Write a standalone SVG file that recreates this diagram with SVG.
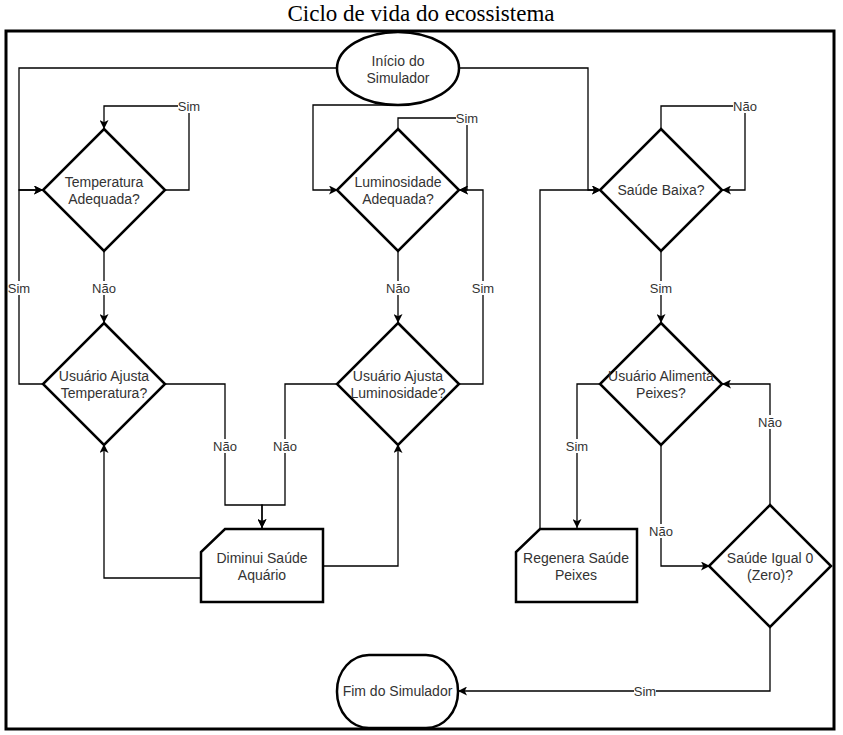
<svg xmlns="http://www.w3.org/2000/svg" width="843" height="735" viewBox="0 0 843 735">
<style>
.node{fill:#fff;stroke:#000;stroke-width:2.5;stroke-linejoin:miter}
.t{font-family:"Liberation Sans",Arial,sans-serif;font-size:14px;fill:#333;text-anchor:middle}
.lbl{font-family:"Liberation Sans",Arial,sans-serif;font-size:13px;fill:#333;text-anchor:middle}
.e{fill:none;stroke:#000;stroke-width:1.3}
.bg{fill:#fff}
</style>
<defs>
<marker id="arr" viewBox="0 0 10 10" refX="10" refY="5" markerWidth="9" markerHeight="9" markerUnits="userSpaceOnUse" orient="auto">
<path d="M0,0 L10,5 L0,10 L2.5,5 z" fill="#000"/>
</marker>
</defs>
<rect width="843" height="735" fill="#fff"/>
<text x="421" y="21" font-family="'Liberation Serif','Times New Roman',serif" font-size="23" text-anchor="middle" fill="#000">Ciclo de vida do ecossistema</text>
<rect id="frame" x="6" y="31" width="828" height="698" fill="none" stroke="#000" stroke-width="3"/>

<g id="connectors">
<path class="e" d="M337,68 H19 V190 H43" marker-end="url(#arr)"/>
<path class="e" d="M43,384 H19 V190 H43" marker-end="url(#arr)"/>
<path class="e" d="M398,105 H313 V190 H338" marker-end="url(#arr)"/>
<path class="e" d="M459,68 H588 V190 H601" marker-end="url(#arr)"/>
<path class="e" d="M164,190 H189 V106 H104 V129" marker-end="url(#arr)"/>
<path class="e" d="M104,251 V323" marker-end="url(#arr)"/>
<path class="e" d="M164,384 H225 V505 H262 V528" marker-end="url(#arr)"/>
<path class="e" d="M337,384 H285 V505 H262 V528" marker-end="url(#arr)"/>
<path class="e" d="M201,578 H104 V444" marker-end="url(#arr)"/>
<path class="e" d="M323,566 H398 V444" marker-end="url(#arr)"/>
<path class="e" d="M459,384 H483 V190 H459" marker-end="url(#arr)"/>
<path class="e" d="M398,130 V118 H467 V190 H459" marker-end="url(#arr)"/>
<path class="e" d="M398,251 V323" marker-end="url(#arr)"/>
<path class="e" d="M661,130 V106 H745 V190 H722" marker-end="url(#arr)"/>
<path class="e" d="M661,251 V323" marker-end="url(#arr)"/>
<path class="e" d="M601,384 H577 V528" marker-end="url(#arr)"/>
<path class="e" d="M661,444 V566 H710" marker-end="url(#arr)"/>
<path class="e" d="M540,529 V190 H601" marker-end="url(#arr)"/>
<path class="e" d="M770,505 V384 H722" marker-end="url(#arr)"/>
<path class="e" d="M770,626 V691 H458" marker-end="url(#arr)"/>
<g id="edge-labels">
<rect class="bg" x="8" y="281" width="22" height="14"/><text class="lbl" x="19" y="293">Sim</text>
<rect class="bg" x="178" y="99" width="22" height="14"/><text class="lbl" x="189" y="111">Sim</text>
<rect class="bg" x="92" y="281" width="24" height="14"/><text class="lbl" x="104" y="293">Não</text>
<rect class="bg" x="213" y="439" width="24" height="14"/><text class="lbl" x="225" y="451">Não</text>
<rect class="bg" x="273" y="439" width="24" height="14"/><text class="lbl" x="285" y="451">Não</text>
<rect class="bg" x="472" y="281" width="22" height="14"/><text class="lbl" x="483" y="293">Sim</text>
<rect class="bg" x="456" y="111" width="22" height="14"/><text class="lbl" x="467" y="123">Sim</text>
<rect class="bg" x="386" y="281" width="24" height="14"/><text class="lbl" x="398" y="293">Não</text>
<rect class="bg" x="733" y="99" width="24" height="14"/><text class="lbl" x="745" y="111">Não</text>
<rect class="bg" x="650" y="281" width="22" height="14"/><text class="lbl" x="661" y="293">Sim</text>
<rect class="bg" x="566" y="439" width="22" height="14"/><text class="lbl" x="577" y="451">Sim</text>
<rect class="bg" x="649" y="524" width="24" height="14"/><text class="lbl" x="661" y="536">Não</text>
<rect class="bg" x="758" y="415" width="24" height="14"/><text class="lbl" x="770" y="427">Não</text>
<rect class="bg" x="634" y="684" width="22" height="14"/><text class="lbl" x="645" y="696">Sim</text>
</g>
</g>

<g id="inicio">
<ellipse class="node" cx="398" cy="68.5" rx="61" ry="36.5"/>
<text class="t" x="398" y="66">Início do</text>
<text class="t" x="398" y="83">Simulador</text>
</g>
<g id="temperatura-adequada">
<path class="node" d="M104,129 L165,190 L104,251 L43,190 Z"/>
<text class="t" x="104" y="187">Temperatura</text>
<text class="t" x="104" y="204">Adequada?</text>
</g>
<g id="usuario-ajusta-temperatura">
<path class="node" d="M104,323 L165,384 L104,445 L43,384 Z"/>
<text class="t" x="104" y="381">Usuário Ajusta</text>
<text class="t" x="104" y="398">Temperatura?</text>
</g>
<g id="luminosidade-adequada">
<path class="node" d="M398,129 L459,190 L398,251 L337,190 Z"/>
<text class="t" x="398" y="187">Luminosidade</text>
<text class="t" x="398" y="204">Adequada?</text>
</g>
<g id="usuario-ajusta-luminosidade">
<path class="node" d="M398,323 L459,384 L398,445 L337,384 Z"/>
<text class="t" x="398" y="381">Usuário Ajusta</text>
<text class="t" x="398" y="398">Luminosidade?</text>
</g>
<g id="diminui-saude">
<path class="node" d="M225,529 H323 V602 H201 V552 Z"/>
<text class="t" x="262" y="563">Diminui Saúde</text>
<text class="t" x="262" y="580">Aquário</text>
</g>
<g id="saude-baixa">
<path class="node" d="M661,129 L722,190 L661,251 L600,190 Z"/>
<text class="t" x="661" y="195">Saúde Baixa?</text>
</g>
<g id="usuario-alimenta">
<path class="node" d="M661,323 L722,384 L661,445 L600,384 Z"/>
<text class="t" x="661" y="381">Usuário Alimenta</text>
<text class="t" x="661" y="398">Peixes?</text>
</g>
<g id="regenera-saude">
<path class="node" d="M540,529 H637 V602 H516 V552 Z"/>
<text class="t" x="576" y="563">Regenera Saúde</text>
<text class="t" x="576" y="580">Peixes</text>
</g>
<g id="saude-igual-zero">
<path class="node" d="M770,505 L831,566 L770,627 L709,566 Z"/>
<text class="t" x="770" y="563">Saúde Igual 0</text>
<text class="t" x="770" y="580">(Zero)?</text>
</g>
<g id="fim">
<rect class="node" x="337" y="655" width="121" height="73" rx="32" ry="36"/>
<text class="t" x="397.5" y="696">Fim do Simulador</text>
</g>
</svg>
